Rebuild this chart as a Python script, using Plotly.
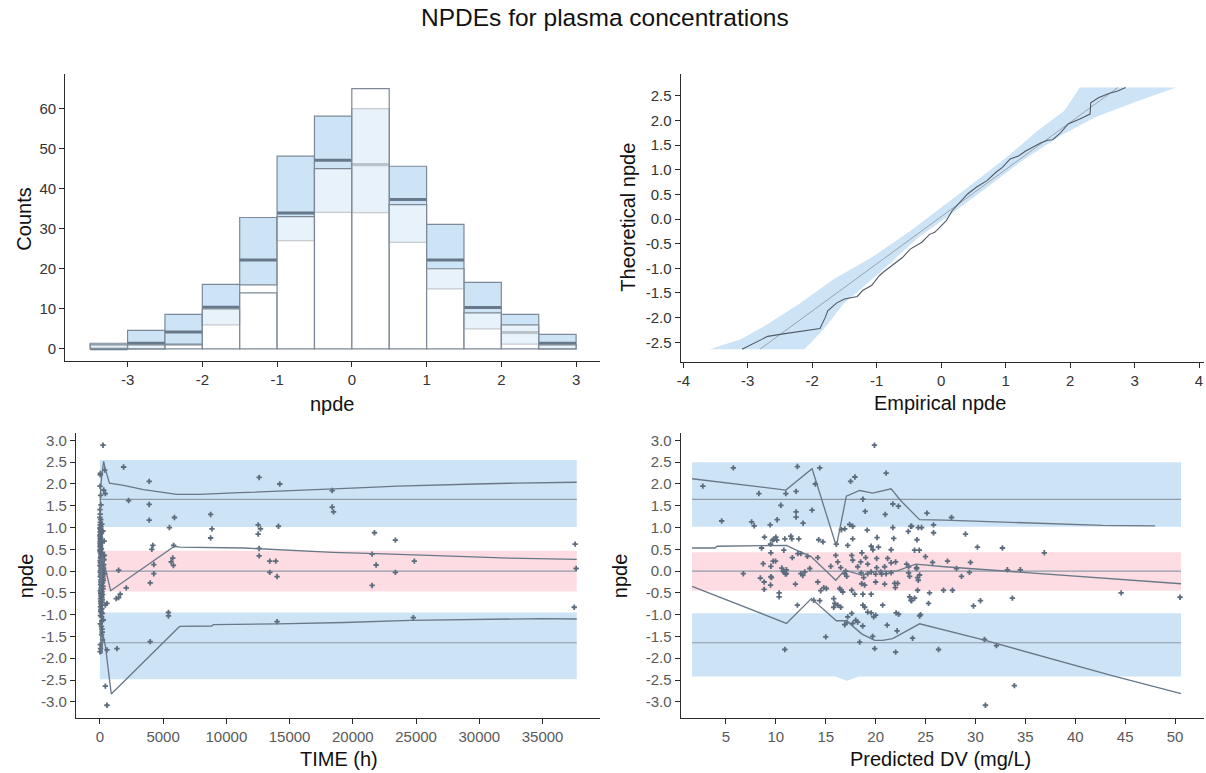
import plotly.graph_objects as go

# ---------------- data ----------------
# histogram of npde (bins of width 0.5)
bin_mid = [-3.25, -2.75, -2.25, -1.75, -1.25, -0.75, -0.25, 0.25, 0.75, 1.25, 1.75, 2.25, 2.75]
obs_counts = [1, 1, 1, 10, 14, 33, 45, 65, 36, 20, 9, 6, 1]
pi_low = [0, 0, 1.2, 6.0, 16.0, 27.0, 34.1, 34.0, 26.6, 15.0, 5.0, 1.2, 0]
pi_high = [1.4, 4.6, 8.6, 16.1, 32.8, 48.1, 58.1, 60.0, 45.6, 31.1, 16.6, 8.6, 3.6]
pi_median = [0, 1.4, 4.2, 10.4, 22.2, 33.9, 47.1, 46.0, 37.3, 22.2, 10.3, 4.1, 1.4]
hist_xticks = [-3, -2, -1, 0, 1, 2, 3]
hist_yticks = [0, 10, 20, 30, 40, 50, 60]

# QQ plot: empirical npde vs theoretical quantiles
qq_emp = [-3.09, -2.69, -2.45, -2.2, -1.88, -1.80, -1.76, -1.62, -1.50, -1.30,
          -1.22, -1.08, -0.96, -0.90, -0.80, -0.72, -0.60, -0.48, -0.40, -0.30,
          -0.18, -0.10, 0.0, 0.08, 0.17, 0.28, 0.41, 0.55, 0.71, 0.85,
          0.95, 1.07, 1.20, 1.31, 1.45, 1.55, 1.65, 1.73, 1.85, 1.97,
          2.15, 2.31, 2.32, 2.44, 2.60, 2.74, 2.86]
qq_theo = [-2.64, -2.38, -2.33, -2.28, -2.22, -2.0, -1.86, -1.70, -1.62, -1.57,
           -1.45, -1.35, -1.15, -1.08, -0.98, -0.91, -0.78, -0.61, -0.55, -0.47,
           -0.31, -0.27, -0.14, -0.03, 0.17, 0.33, 0.51, 0.65, 0.78, 0.95,
           1.05, 1.22, 1.28, 1.38, 1.48, 1.55, 1.60, 1.61, 1.75, 1.93,
           2.03, 2.13, 2.36, 2.46, 2.55, 2.6, 2.67]
qq_ref_x = [-2.81, 2.74]
qq_ref_y = [-2.64, 2.67]
qq_band_lo_y = [-2.64, -2.44, -2.13, -1.73, -1.22, -0.78, -0.24, 0.17, 0.64, 1.25, 1.79, 2.2, 2.67]
qq_band_lo_x = [-3.59, -3.11, -2.69, -2.21, -1.67, -1.08, -0.48, -0.06, 0.41, 1.01, 1.49, 1.91, 2.15]
qq_band_hi_y = [-2.64, -2.2, -1.73, -1.06, -0.38, 0.10, 0.64, 1.18, 1.69, 2.06, 2.36, 2.67]
qq_band_hi_x = [-2.12, -1.80, -1.52, -0.93, -0.36, 0.15, 0.71, 1.25, 1.85, 2.38, 2.98, 3.64]
qq_xticks = [-4, -3, -2, -1, 0, 1, 2, 3, 4]
qq_yticks = [-2.5, -2.0, -1.5, -1.0, -0.5, 0.0, 0.5, 1.0, 1.5, 2.0, 2.5]

# npde vs TIME
col_time = [12, 85, 40, 150, 60, 230, 25, 110, 300, 70,
            18, 190, 95, 45, 260, 130, 8, 55, 170, 340,
            30, 75, 210, 120, 15, 280, 65, 140, 50, 100,
            22, 180, 35, 90, 250, 10, 160, 48, 125, 72,
            200, 28, 105, 320, 58, 145, 20, 82, 240, 38,
            115, 5, 175, 68, 290, 42, 135, 88, 16, 220,
            52, 98, 360, 26, 155, 78, 33, 270, 62, 118,
            14, 185, 46, 92, 230, 24, 142, 80, 310, 36,
            108, 56, 195, 11, 128, 74, 265, 44, 165, 86,
            19, 205, 63, 132, 27, 96, 245, 50, 150, 9,
            112, 70, 380, 34, 176, 58, 138, 22, 84, 215,
            41, 122, 66, 30, 190, 102, 53, 275, 17, 148]
col_npde = [1.95, 1.52, 2.21, 1.08, 1.74, 0.92, 1.31, 0.66, 1.86, 1.18,
            0.97, 0.43, 1.02, 0.78, 0.35, 0.88, 1.41, 0.58, 0.21, 0.69,
            1.12, 0.94, 0.12, 0.51, 0.83, 0.27, 0.72, -0.05, 0.62, 0.38,
            1.06, 0.04, 0.47, 0.31, -0.18, 0.99, -0.11, 0.55, 0.16, 0.86,
            -0.27, 0.74, 0.09, 0.26, 0.40, -0.33, 0.63, 0.22, -0.41, 0.50,
            -0.02, 1.23, -0.47, 0.33, 0.07, 0.19, -0.36, 0.05, 0.81, -0.54,
            0.29, -0.14, 0.36, 0.57, -0.61, -0.08, 0.44, -0.22, 0.11, -0.29,
            0.68, -0.72, 0.01, -0.39, -0.13, 0.24, -0.51, -0.20, 0.15, -0.45,
            -0.57, -0.31, -0.66, 0.48, -0.78, -0.49, 0.02, -0.63, -0.86, -0.25,
            0.90, -0.97, -0.69, -1.05, -0.12, -0.44, -0.35, -0.82, -1.14, 0.13,
            -0.58, -0.92, -0.06, -1.21, -1.33, -0.74, -1.46, -0.03, -0.88, -1.58,
            -1.02, -1.27, -0.52, -1.69, -1.40, -0.95, -1.78, -1.12, -1.85, -0.60]
time_h = [1875, 2269, 3900, 3900, 3900, 5894, 5500, 4187, 4108, 5831,
          4266, 4266, 3976, 2086, 5762, 5814, 5631, 5420, 5420, 3976,
          8756, 8861, 8756, 12592, 14222, 12513, 12697, 12513, 14117, 12592,
          12592, 13433, 13906, 13433, 14011, 14011, 18368, 18368, 18473, 21708,
          21524, 21840, 21524, 23363, 23363, 24860, 24781, 37570, 37650, 37500,
          246, 430, 40, 380, 1481, 1612, 1481, 1297, 561, 430,
          1350, 561, 430, 561]
time_npde = [2.39, 1.62, 2.06, 1.53, 1.17, 1.23, 1.0, 0.59, 0.50, 0.59,
             0.15, -0.06, -0.27, -0.385, 0.30, 0.13, 0.21, -0.95, -1.03, -1.62,
             1.30, 0.97, 0.76, 2.15, 2.0, 1.06, 0.97, 0.85, 1.03, 0.52,
             0.35, 0.23, 0.23, -0.03, -0.125, -1.16, 1.85, 1.47, 1.36, 0.88,
             0.39, 0.14, -0.33, 0.71, -0.03, 0.23, -1.07, 0.62, 0.06, -0.83,
             2.89, 1.78, 2.24, 2.32, 0.02, -0.53, -0.61, -0.63, -0.74, -0.78,
             -1.78, -1.81, -2.64, -3.08]
t_upper = [0, 60, 150, 300, 420, 760, 1875, 3450, 6080, 7900, 11070, 14090, 17240, 20390, 23540, 26690, 29710, 32860, 36010, 37700]
t_upper_npde = [1.2, 1.9, 2.2, 2.52, 2.35, 2.02, 1.97, 1.87, 1.76, 1.76, 1.80, 1.83, 1.87, 1.91, 1.95, 1.98, 2.0, 2.02, 2.04, 2.04]
t_mid = [0, 40, 100, 200, 400, 850, 5900, 6300, 11400, 15000, 18420, 21840, 25385, 28930, 32350, 37700]
t_mid_npde = [-0.5, 0.3, -0.3, 0.35, 0.1, -0.45, 0.57, 0.55, 0.53, 0.47, 0.43, 0.40, 0.36, 0.33, 0.30, 0.27]
t_low = [0, 60, 150, 250, 450, 900, 6300, 8840, 8970, 14010, 19340, 24520, 29720, 34970, 37700]
t_low_npde = [-1.2, -1.6, -1.9, -1.45, -1.75, -2.82, -1.27, -1.26, -1.23, -1.21, -1.18, -1.13, -1.11, -1.09, -1.1]
time_extent = [0, 37700]
time_bands = [(1.01, 2.55), (-0.47, 0.47), (-2.48, -0.95)]
time_xticks = [0, 5000, 10000, 15000, 20000, 25000, 30000, 35000]

# npde vs predicted DV
pred_dv = [2.68, 4.57, 5.74, 6.74, 7.57, 7.83, 8.30, 8.57, 8.86, 9.43,
           9.47, 9.5, 9.5, 9.5, 9.66, 9.73, 9.8, 9.97, 10.0, 10.1,
           10.13, 10.5, 10.6, 10.8, 10.83, 10.9, 10.96, 11.0, 11.06, 11.5,
           11.6, 11.65, 12.03, 12.03, 12.03, 12.16, 12.2, 12.3, 8.73, 8.45,
           8.83, 9.56, 9.47, 8.83, 10.73, 11.06, 11.96, 10.33, 10.33, 12.16, 10.9,
           19.88, 14.4, 13.96, 13.63, 12.73, 17.49, 17.92, 21.05, 18.72, 18.95,
           21.72, 22.28, 20.96, 17.39, 16.56, 16.9, 17.7, 19.15, 20.14, 17.7,
           16.06, 17.2, 19.55, 20.28, 18.62, 19.72, 21.72, 21.81, 21.55, 23.54,
           23.27, 24.14, 24.37, 14.29, 14.72, 12.5, 13.16, 14.2, 13.4, 12.9,
           16.0, 16.2, 15.5, 16.5, 17.0, 17.6, 17.7, 18.2, 18.5, 19.0,
           19.2, 20.1, 20.1, 21.2, 21.55, 22.0, 20.9, 23.1, 23.3, 24.1,
           18.55, 19.55, 20.5, 21.55, 23.3, 24.4,
           12.5, 12.7, 14.2, 15.06, 14.8, 14.5, 13.8, 14.4, 15.8, 15.9,
           15.8, 16.2, 16.5, 16.4, 16.7, 16.55, 16.9, 17.1, 17.6, 17.9,
           18.72, 19.55, 18.9, 18.6, 19.2, 20.0, 20.6, 21.05, 18.8, 20.0,
           20.9, 21.9, 22.2, 21.97, 23.4, 24.2, 24.2, 23.4, 23.54, 18.72,
           18.9, 20.7, 17.6, 17.2, 17.1, 16.9, 18.0, 18.2, 17.7, 18.7,
           19.2, 19.55, 19.8, 20.0, 21.15, 22.05, 22.3, 22.15, 23.7, 24.4,
           15.0, 18.4, 19.7, 19.9, 22.0,
           25.14, 27.6, 23.6, 24.27, 24.6, 25.8, 25.8, 29.0, 30.2, 32.7,
           36.9, 23.9, 24.99, 25.7, 27.2, 29.5, 24.1, 28.1, 28.6, 29.4,
           33.2, 34.5, 24.27, 25.4, 26.8, 27.7, 23.9, 23.6, 25.3, 29.8,
           30.5, 33.7, 44.6, 24.5, 26.3, 30.9, 32.1, 33.9, 31.0, 50.5]
pred_npde = [1.95, 1.15, 2.37, -0.06, 1.13, 1.04, 1.78, 0.53, 0.78, 1.06,
             0.62, 0.42, 0.11, -0.13, 0.71, 0.23, 0.73, 0.23, 0.78, 0.71,
             1.18, 1.51, 0.07, 0.48, -0.03, 0.74, -0.07, 1.78, 0.03, 0.80,
             0.74, 0.31, 1.83, 1.36, 1.24, 2.40, 0.40, 0.74, 0.17, -0.16,
             -0.25, -0.15, -0.32, -0.42, 0.0, -0.06, -0.30, -0.50, -0.59, -0.78, -1.80,
             2.89, 2.37, 2.0, 1.40, 1.10, 2.06, 2.16, 2.25, 1.65, 1.37,
             1.54, 1.49, 1.30, 1.07, 0.95, 0.97, 1.03, 0.94, 0.77, 0.74,
             0.62, 0.59, 0.57, 0.55, 0.42, 0.49, 1.0, 0.75, 0.49, 1.03,
             0.91, 0.72, 0.48, 0.72, 0.67, 0.40, 0.34, 0.31, 0.06, -0.02,
             0.36, 0.21, 0.11, 0.08, 0.0, 0.36, 0.25, 0.10, 0.21, 0.31,
             0.16, 0.29, 0.08, 0.29, 0.19, 0.21, 0.10, 0.16, 0.10, 0.06,
             -0.04, -0.02, -0.02, -0.04, -0.04, -0.09,
             -0.06, -0.10, -0.25, -0.40, -0.38, -0.45, -0.67, -0.68, -0.63, -0.74,
             -0.83, -0.78, -0.83, -0.40, -0.48, -0.44, -0.06, -0.12, -0.44, -0.53,
             -0.53, -0.53, -0.32, -0.29, -0.06, -0.07, -0.07, -0.06, -0.15, -0.25,
             -0.30, -0.28, -0.28, -0.38, -0.12, -0.15, -0.44, -0.59, -0.67, -0.78,
             -0.83, -0.78, -0.97, -1.05, -1.18, -1.23, -1.13, -1.17, -1.20, -1.26,
             -0.94, -0.96, -1.05, -1.01, -1.24, -0.96, -0.99, -1.37, -1.54, -1.03,
             -1.51, -1.63, -1.50, -1.78, -1.86,
             1.33, 1.23, 1.03, 1.0, 1.0, 1.06, 0.88, 0.85, 0.55, 0.53,
             0.42, 0.48, 0.33, 0.20, 0.23, 0.20, 0.08, 0.06, -0.12, -0.03,
             0.03, 0.03, -0.21, -0.5, -0.44, -0.44, -0.62, -0.68, -0.74, -0.80,
             -0.68, -0.62, -0.5, -1.0, -1.80, -1.57, -1.71, -2.63, -3.08, -0.60]
p_upper = [1.6, 11.0, 13.63, 16.06, 17.06, 18.4, 19.7, 21.55, 22.5, 24.4, 26.9, 32.0, 37.4, 42.7, 48.0]
p_upper_npde = [2.12, 1.86, 2.35, 0.57, 1.72, 1.85, 1.79, 1.89, 1.62, 1.18, 1.17, 1.13, 1.09, 1.05, 1.04]
p_mid = [1.6, 3.9, 4.1, 10.2, 11.06, 12.06, 13.5, 16.0, 16.9, 18.6, 20.1, 22.1, 24.0, 26.9, 31.2, 34.5, 37.9, 41.2, 44.5, 50.6]
p_mid_npde = [0.53, 0.53, 0.57, 0.59, 0.59, 0.48, 0.34, -0.21, 0.02, -0.09, 0.0, 0.0, 0.16, 0.10, 0.03, -0.02, -0.09, -0.13, -0.19, -0.29]
p_low = [1.6, 11.06, 13.56, 16.06, 17.06, 18.6, 19.9, 20.7, 21.7, 24.4, 30.8, 36.9, 43.5, 50.6]
p_low_npde = [-0.35, -1.20, -0.63, -1.14, -1.14, -1.44, -1.59, -1.59, -1.55, -1.21, -1.58, -1.97, -2.39, -2.81]
pred_extent = [1.6, 50.6]
pred_bands = [(1.02, 2.50), (-0.45, 0.43), (-2.42, -0.97)]
pred_dip = [(15.9, -2.42), (17.15, -2.52), (18.3, -2.42)]
pred_xticks = [5, 10, 15, 20, 25, 30, 35, 40, 45, 50]
npde_yticks = [-3.0, -2.5, -2.0, -1.5, -1.0, -0.5, 0.0, 0.5, 1.0, 1.5, 2.0, 2.5, 3.0]
ref_levels = [1.645, 0.0, -1.645]

# ---------------- styles ----------------
FONT = "Liberation Sans, Arial, sans-serif"
BLUE = "#cde3f6"
PINK = "#fddde3"
OUTLINE = "#7d8996"
MEDIAN = "#66788a"
LINE = "#687888"
REF = "#8f9ba7"
POINT = "#5c6c7d"

W, H = 1206, 773


def px_x(x):
    return x / W


def px_y(y):
    return 1 - y / H


fig = go.Figure()

# ---- histogram panel ----
fig.add_trace(go.Bar(x=bin_mid, y=[h - l for h, l in zip(pi_high, pi_low)], base=pi_low,
                     width=0.5, marker=dict(color=BLUE, line=dict(color=OUTLINE, width=1.2)),
                     xaxis="x", yaxis="y", hoverinfo="skip"))
med_h = 0.75
fig.add_trace(go.Bar(x=bin_mid, y=[med_h] * len(pi_median), base=[m - med_h / 2 for m in pi_median],
                     width=0.5, marker=dict(color=MEDIAN, line=dict(width=0)),
                     xaxis="x", yaxis="y", hoverinfo="skip"))
fig.add_trace(go.Bar(x=bin_mid, y=obs_counts, width=0.5,
                     marker=dict(color="rgba(255,255,255,0.55)", line=dict(color=OUTLINE, width=1.2)),
                     xaxis="x", yaxis="y", hoverinfo="skip"))

# ---- QQ panel ----
fig.add_trace(go.Scatter(x=qq_band_lo_x + qq_band_hi_x[::-1], y=qq_band_lo_y + qq_band_hi_y[::-1],
                         fill="toself", fillcolor=BLUE, mode="lines", line=dict(width=0),
                         xaxis="x2", yaxis="y2", hoverinfo="skip"))
fig.add_trace(go.Scatter(x=qq_ref_x, y=qq_ref_y, mode="lines", line=dict(color="#9aa3ac", width=1),
                         xaxis="x2", yaxis="y2", hoverinfo="skip"))
fig.add_trace(go.Scatter(x=qq_emp, y=qq_theo, mode="lines", line=dict(color="#4f5a66", width=1.1),
                         xaxis="x2", yaxis="y2", hoverinfo="skip"))


def add_bands(extent, bands, xa, ya, dip=None):
    x0, x1 = extent
    colours = [BLUE, PINK, BLUE]
    for i, ((lo, hi), c) in enumerate(zip(bands, colours)):
        xs = [x0, x1, x1, x0, x0]
        ys = [lo, lo, hi, hi, lo]
        if dip is not None and i == 2:
            xs = [x0] + [d[0] for d in dip] + [x1, x1, x0, x0]
            ys = [lo] + [d[1] for d in dip] + [lo, hi, hi, lo]
        fig.add_trace(go.Scatter(x=xs, y=ys, fill="toself", fillcolor=c, mode="lines",
                                 line=dict(width=0), xaxis=xa, yaxis=ya, hoverinfo="skip"))
    for lvl in ref_levels:
        fig.add_trace(go.Scatter(x=[x0, x1], y=[lvl, lvl], mode="lines", line=dict(color=REF, width=1.2),
                                 xaxis=xa, yaxis=ya, hoverinfo="skip"))


def add_lines(xs_list, ys_list, xa, ya):
    for xs, ys in zip(xs_list, ys_list):
        fig.add_trace(go.Scatter(x=xs, y=ys, mode="lines", line=dict(color=LINE, width=1.3),
                                 xaxis=xa, yaxis=ya, hoverinfo="skip"))


point_marker = dict(symbol="cross", size=4.5, color=POINT, line=dict(width=0))

# ---- npde vs TIME ----
add_bands(time_extent, time_bands, "x3", "y3")
fig.add_trace(go.Scatter(x=col_time + time_h, y=col_npde + time_npde, mode="markers",
                         marker=point_marker, xaxis="x3", yaxis="y3", hoverinfo="skip"))
add_lines([t_upper, t_mid, t_low], [t_upper_npde, t_mid_npde, t_low_npde], "x3", "y3")

# ---- npde vs predicted DV ----
add_bands(pred_extent, pred_bands, "x4", "y4", dip=pred_dip)
fig.add_trace(go.Scatter(x=pred_dv, y=pred_npde, mode="markers",
                         marker=point_marker, xaxis="x4", yaxis="y4", hoverinfo="skip"))
add_lines([p_upper, p_mid, p_low], [p_upper_npde, p_mid_npde, p_low_npde], "x4", "y4")

# ---------------- axes ----------------
axis_common = dict(showline=True, linecolor="#2b2b2b", linewidth=1.2, ticks="outside",
                   ticklen=5, tickwidth=1.2, tickcolor="#2b2b2b", showgrid=False, zeroline=False,
                   fixedrange=True, ticklabeloverflow="allow")
tick_dark = dict(family=FONT, size=15, color="#333333")
tick_grey = dict(family=FONT, size=15, color="#5a5a5a")

top_y = [px_y(360.7), px_y(73)]
top_y2 = [px_y(361.7), px_y(73)]
bot_y = [px_y(717.7), px_y(432.7)]

fig.update_layout(
    xaxis=dict(axis_common, domain=[px_x(61.5), px_x(598)], range=[-3.833, 3.32], anchor="y",
               tickvals=hist_xticks, ticktext=[str(v) for v in hist_xticks], tickfont=tick_dark),
    yaxis=dict(axis_common, domain=top_y, range=[-3.09, 68.65], anchor="x",
               tickvals=hist_yticks, ticktext=[str(v) for v in hist_yticks], tickfont=tick_dark),
    xaxis2=dict(axis_common, domain=[px_x(679), px_x(1204)], range=[-4.04, 4.077], anchor="y2",
                tickvals=qq_xticks, ticktext=[str(v) for v in qq_xticks], tickfont=tick_dark),
    yaxis2=dict(axis_common, domain=top_y2, range=[-2.905, 2.946], anchor="x2",
                tickvals=qq_yticks, ticktext=[f"{v:.1f}" for v in qq_yticks], tickfont=tick_dark),
    xaxis3=dict(axis_common, domain=[px_x(72.3), px_x(598)], range=[-1883, 39540], anchor="y3",
                tickvals=time_xticks, ticktext=[str(v) for v in time_xticks], tickfont=tick_grey),
    yaxis3=dict(axis_common, domain=bot_y, range=[-3.367, 3.167], anchor="x3",
                tickvals=npde_yticks, ticktext=[f"{v:.1f}" for v in npde_yticks], tickfont=tick_grey),
    xaxis4=dict(axis_common, domain=[px_x(679), px_x(1204)], range=[0.47, 52.9], anchor="y4",
                tickvals=pred_xticks, ticktext=[str(v) for v in pred_xticks], tickfont=tick_grey),
    yaxis4=dict(axis_common, domain=bot_y, range=[-3.367, 3.167], anchor="x4",
                tickvals=npde_yticks, ticktext=[f"{v:.1f}" for v in npde_yticks], tickfont=tick_grey),
    barmode="overlay",
    showlegend=False,
    width=W, height=H,
    margin=dict(l=0, r=0, t=0, b=0),
    paper_bgcolor="white",
    plot_bgcolor="rgba(0,0,0,0)",
    font=dict(family=FONT, color="#222222"),
)

title_font = dict(family=FONT, size=20, color="#111111")
annotations = [
    dict(text="NPDEs for plasma concentrations", x=px_x(603), y=px_y(17),
         font=dict(family=FONT, size=24.5, color="#111111")),
    dict(text="npde", x=px_x(330), y=px_y(404), font=title_font),
    dict(text="Counts", x=px_x(20), y=px_y(218), textangle=-90, font=title_font),
    dict(text="Empirical npde", x=px_x(939), y=px_y(403), font=title_font),
    dict(text="Theoretical npde", x=px_x(626), y=px_y(216), textangle=-90, font=title_font),
    dict(text="TIME (h)", x=px_x(336), y=px_y(759), font=title_font),
    dict(text="npde", x=px_x(22), y=px_y(575), textangle=-90, font=title_font),
    dict(text="Predicted DV (mg/L)", x=px_x(940), y=px_y(759), font=title_font),
    dict(text="npde", x=px_x(618), y=px_y(575), textangle=-90, font=title_font),
]
for a in annotations:
    a.update(xref="paper", yref="paper", showarrow=False, xanchor="center", yanchor="middle")
fig.update_layout(annotations=annotations)

fig.write_html("out.html")
